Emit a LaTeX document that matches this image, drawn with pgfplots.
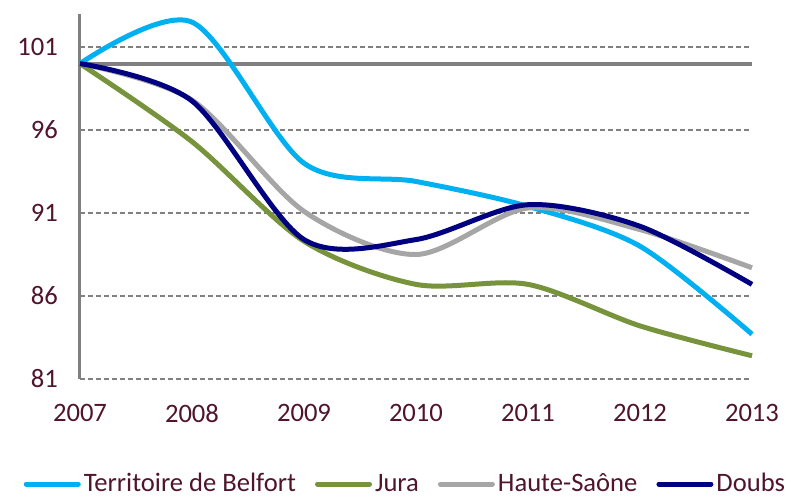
\documentclass[border=0pt]{standalone}
\usepackage{fontspec}
\setmainfont{Carlito}
\usepackage{pgfplots}
\pgfplotsset{compat=1.18}

\definecolor{tdb}{RGB}{0,176,240}
\definecolor{jura}{RGB}{119,147,60}
\definecolor{hsaone}{RGB}{166,166,166}
\definecolor{doubs}{RGB}{0,0,128}
\definecolor{axgray}{RGB}{128,128,128}
\definecolor{lbl}{RGB}{80,20,45}

\begin{document}
\begin{tikzpicture}[font=\fontsize{13.3}{15.5}\selectfont]
\begin{axis}[
    scale only axis,
    width=336pt, height=182.6pt,
    xmin=2007, xmax=2013,
    ymin=81, ymax=103,
    xtick={2007,2008,...,2013},
    ytick={81,86,91,96,101},
    /pgf/number format/assume math mode=true,
    /pgf/number format/1000 sep={},
    axis y line*=left,
    axis x line*=bottom,
    x axis line style={draw=none},
    y axis line style={draw=axgray, line width=1.5pt, -},
    major tick length=0pt,
    ymajorgrids,
    grid style={axgray, line width=0.8pt, dash pattern=on 2.5pt off 1.5pt},
    tick label style={text=lbl},
    xticklabel style={yshift=-9pt},
    yticklabel style={xshift=-7.5pt},
    legend columns=4,
    legend style={draw=none, fill=none, at={(0.485,0)}, anchor=center,
        yshift=-52.5pt, text=lbl, /tikz/every even column/.append style={column sep=8pt},
        inner sep=0pt, nodes={inner sep=1.5pt}},
    legend image code/.code={\draw[#1, line width=2.5pt, line cap=round] (0pt,0pt) -- (26pt,0pt);},
    clip=false,
]
\addplot[axgray, line width=2pt, forget plot] coordinates {(2007,100) (2013,100)};

\addplot[tdb, line width=2.5pt, smooth] coordinates {
    (2007,100) (2008,102.5) (2009,94.0) (2010,92.9) (2011,91.4) (2012,89.0) (2013,83.7)};
\addlegendentry{Territoire de Belfort}
\addplot[jura, line width=2.5pt, smooth] coordinates {
    (2007,100) (2008,95.3) (2009,89.3) (2010,86.7) (2011,86.7) (2012,84.2) (2013,82.4)};
\addlegendentry{Jura}
\addplot[hsaone, line width=2.5pt, smooth] coordinates {
    (2007,100) (2008,97.8) (2009,91.1) (2010,88.5) (2011,91.3) (2012,90.0) (2013,87.7)};
\addlegendentry{Haute-Saône}
\addplot[doubs, line width=2.5pt, smooth] coordinates {
    (2007,100) (2008,97.75) (2009,89.4) (2010,89.4) (2011,91.5) (2012,90.2) (2013,86.7)};
\addlegendentry{Doubs}
\end{axis}
\pgfresetboundingbox
\path (-40pt,-60pt) rectangle (354.5pt,189.5pt);
\end{tikzpicture}
\end{document}
